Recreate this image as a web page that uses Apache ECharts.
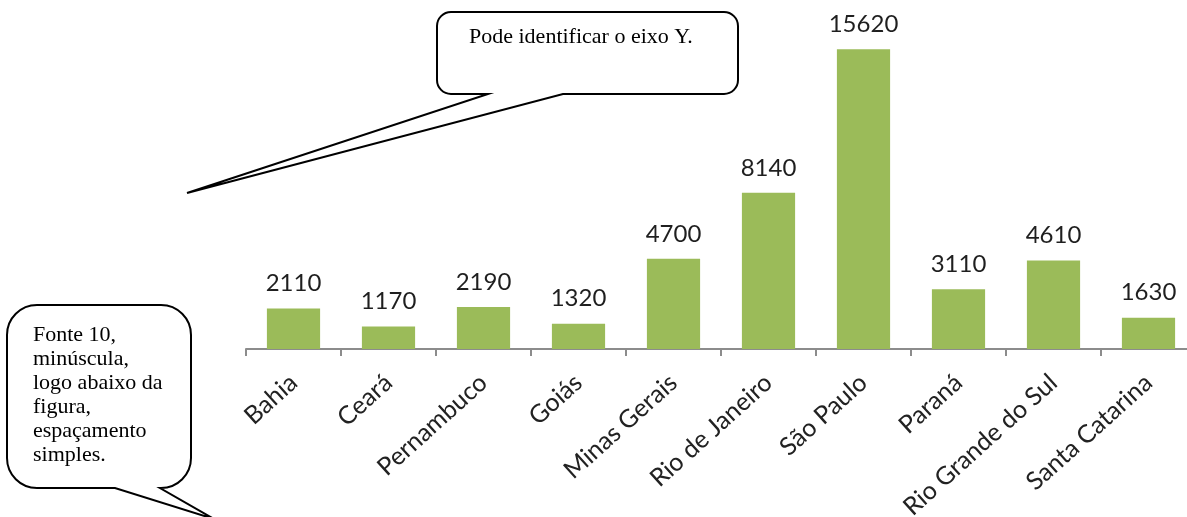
<!DOCTYPE html>
<html>
<head>
<meta charset="utf-8">
<title>Estados</title>
<script src="https://cdn.jsdelivr.net/npm/echarts@6/dist/echarts.min.js"></script>
<style>
  html, body { margin: 0; padding: 0; background: #fff; }
  #chart { width: 1187px; height: 517px; }
</style>
</head>
<body>
<div id="chart"></div>
<script>
// data
const estados = ['Bahia', 'Ceará', 'Pernambuco', 'Goiás', 'Minas Gerais', 'Rio de Janeiro',
  'São Paulo', 'Paraná', 'Rio Grande do Sul', 'Santa Catarina']
const valores = [2110, 1170, 2190, 1320, 4700, 8140, 15620, 3110, 4610, 1630]

const notaTopo = 'Pode identificar o eixo Y.'
const notaBaixo = ['Fonte 10,', 'minúscula,', 'logo abaixo da', 'figura,', 'espaçamento', 'simples.']

const fonteRotulo = 'Lato, "Open Sans", sans-serif'
const fonteNota = '"Liberation Serif", "Times New Roman", serif'

// balões (formas de anotação, não dados)
echarts.graphic.registerShape('balaoTopo', echarts.graphic.extendPath(
  'M451,12 H724 A14,14 0 0 1 738,26 V80 A14,14 0 0 1 724,94 H563 L187,193 L488,94 H451 A14,14 0 0 1 437,80 V26 A14,14 0 0 1 451,12 Z', {}))
echarts.graphic.registerShape('balaoBaixo', echarts.graphic.extendPath(
  'M37,305 H161 A30,30 0 0 1 191,335 V458 A30,30 0 0 1 161,488 H160 L214,519 L115,488 H37 A30,30 0 0 1 7,458 V335 A30,30 0 0 1 37,305 Z', {}))

var myChart = echarts.init(document.getElementById('chart'), null, { renderer: 'canvas' })

var option = {
  animation: false,
  backgroundColor: '#fff',
  grid: { left: 246, width: 950, top: 42, bottom: 168, outerBoundsMode: 'none', containLabel: false },
  xAxis: {
    type: 'category',
    data: estados,
    axisLine: { lineStyle: { color: '#8c8c8c', width: 2 } },
    axisTick: { show: true, length: 7, lineStyle: { color: '#8c8c8c', width: 2 } },
    axisLabel: {
      interval: 0,
      rotate: 42,
      margin: 30,
      fontSize: 25,
      fontFamily: fonteRotulo,
      color: '#222'
    }
  },
  yAxis: {
    type: 'value',
    min: 0,
    max: 16000,
    show: false,
    splitLine: { show: false }
  },
  series: [{
    type: 'bar',
    data: valores,
    barWidth: '56%',
    itemStyle: { color: '#9bbb59' },
    label: {
      show: true,
      position: 'top',
      distance: 13,
      fontSize: 24,
      fontFamily: fonteRotulo,
      color: '#1f1f1f'
    }
  }],
  graphic: [
    {
      type: 'balaoTopo',
      style: { fill: '#fff', stroke: '#000', lineWidth: 2 },
      z: 10
    },
    {
      type: 'text',
      x: 469, y: 37,
      style: {
        text: notaTopo,
        font: '22px ' + fonteNota,
        fill: '#000',
        verticalAlign: 'middle'
      },
      z: 11
    },
    {
      type: 'balaoBaixo',
      style: { fill: '#fff', stroke: '#000', lineWidth: 2 },
      z: 10
    },
    {
      type: 'text',
      x: 33, y: 323,
      style: {
        text: notaBaixo.join('\n'),
        font: '22px ' + fonteNota,
        lineHeight: 24,
        fill: '#000',
        verticalAlign: 'top'
      },
      z: 11
    }
  ]
}

myChart.setOption(option)
</script>
</body>
</html>
